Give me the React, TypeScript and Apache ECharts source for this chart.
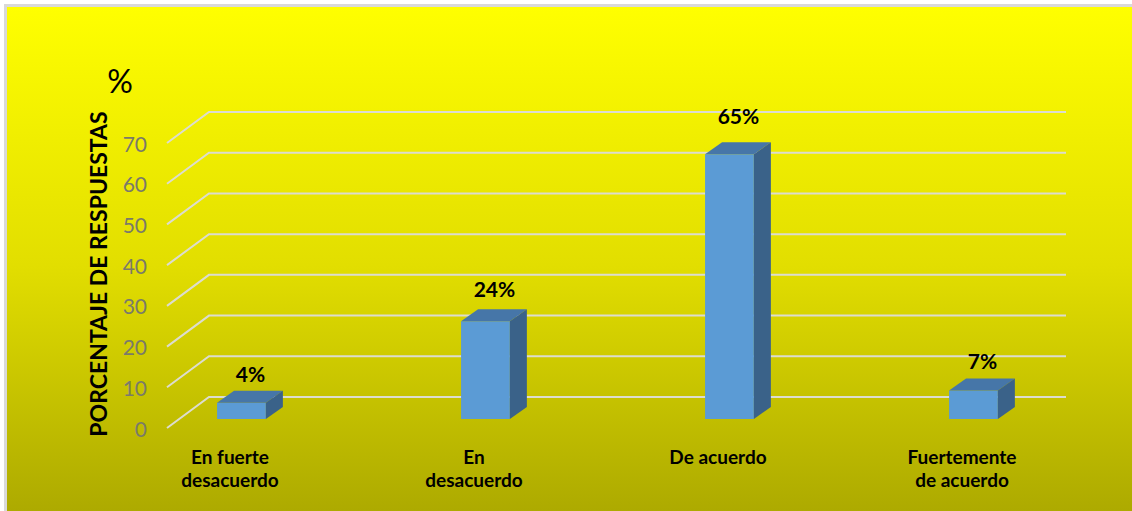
import React, { useEffect, useRef } from "react";
import * as echarts from "echarts";

const categories = ["En fuerte\ndesacuerdo", "En\ndesacuerdo", "De acuerdo", "Fuertemente\nde acuerdo"];
const values = [4, 24, 65, 7];
const yTicks = [0, 10, 20, 30, 40, 50, 60, 70];
const yAxisTitle = "PORCENTAJE DE RESPUESTAS";
const unitLabel = "%";

const FONT = "Lato, 'Noto Sans', sans-serif";

export default function App() {
  const ref = useRef<HTMLDivElement>(null);
  useEffect(() => {
    document.body.style.margin = "0";
    const chart = echarts.init(ref.current!, null, { renderer: "svg" });
    const option: any = {
      animation: false,
      backgroundColor: "#ffffff",
      grid: { left: 108, right: 48, top: 143, bottom: 83 },
      xAxis: {
        type: "category",
        data: categories,
        axisLine: { show: false },
        axisTick: { show: false },
        splitLine: { show: false },
        axisLabel: {
          margin: 17,
          fontSize: 19,
          fontWeight: "bold",
          color: "#000000",
          fontFamily: FONT,
          lineHeight: 23,
          interval: 0,
        },
      },
      yAxis: {
        type: "value",
        min: 0,
        max: 70,
        interval: 10,
        offset: -59,
        axisLine: { show: false },
        axisTick: { show: false },
        splitLine: { show: false },
        axisLabel: { margin: 20, fontSize: 21, color: "#7a7a6a", fontFamily: FONT },
      },
      graphic: [
        {
          type: "rect",
          z: -100,
          silent: true,
          shape: { x: 5.5, y: 5.5, width: 1140, height: 520 },
          style: {
            stroke: "#d9d9d9",
            lineWidth: 3,
            fill: new echarts.graphic.LinearGradient(0, 0, 0, 1, [
              { offset: 0, color: "#ffff00" },
              { offset: 0.5, color: "#e2de00" },
              { offset: 1, color: "#aaa700" },
            ]),
          },
        },
        {
          type: "text",
          x: 98,
          y: 274,
          rotation: Math.PI / 2,
          style: {
            text: yAxisTitle,
            align: "center",
            verticalAlign: "middle",
            fontSize: 23,
            fontWeight: "bold",
            fontFamily: FONT,
            fill: "#000000",
          },
        },
        {
          type: "text",
          x: 120,
          y: 80,
          style: {
            text: unitLabel,
            align: "center",
            verticalAlign: "middle",
            fontSize: 32,
            fontFamily: FONT,
            fill: "#000000",
          },
        },
      ],
      series: [
        {
          type: "custom",
          clip: false,
          silent: true,
          z: 1,
          data: yTicks.map((t) => [0, t]),
          renderItem: (params: any, api: any) => {
            const cs = params.coordSys;
            const y = api.coord([0, api.value(1)])[1];
            return {
              type: "polyline",
              shape: {
                points: [
                  [cs.x + 59, y],
                  [cs.x + 101, y - 31],
                  [cs.x + cs.width - 18, y - 31],
                ],
              },
              style: { stroke: "#dcdcd0", lineWidth: 2, fill: null },
            };
          },
        },
        {
          type: "custom",
          clip: false,
          z: 3,
          data: values.map((v, i) => [i, v]),
          renderItem: (params: any, api: any) => {
            const idx = api.value(0);
            const v = api.value(1);
            const [cx, yTop] = api.coord([idx, v]);
            const yBase = api.coord([idx, 0])[1];
            const band = api.size([1, 0])[0];
            const fx0 = cx - band * 0.053;
            const fx1 = fx0 + band * 0.2;
            const ft = yTop - 9;
            const fb = yBase - 9;
            const dx = 17;
            const dy = -12;
            const labelGap = 17 + (ft - fb) * -0.037;
            return {
              type: "group",
              children: [
                {
                  type: "polygon",
                  shape: { points: [[fx0, ft], [fx1, ft], [fx1, fb], [fx0, fb]] },
                  style: { fill: "#5b9bd5" },
                },
                {
                  type: "polygon",
                  shape: { points: [[fx0, ft], [fx1, ft], [fx1 + dx, ft + dy], [fx0 + dx, ft + dy]] },
                  style: { fill: "#4676a8" },
                },
                {
                  type: "polygon",
                  shape: { points: [[fx1, ft], [fx1 + dx, ft + dy], [fx1 + dx, fb + dy], [fx1, fb]] },
                  style: { fill: "#3a6289" },
                },
                {
                  type: "text",
                  style: {
                    text: v + "%",
                    x: (fx0 + fx1) / 2 + 9,
                    y: ft + dy - labelGap,
                    align: "center",
                    verticalAlign: "middle",
                    fontSize: 21,
                    fontWeight: "bold",
                    fontFamily: FONT,
                    fill: "#000000",
                  },
                },
              ],
            };
          },
        },
      ],
    };
    chart.setOption(option);
    return () => chart.dispose();
  }, []);
  return <div ref={ref} style={{ width: 1132, height: 511 }} />;
}
